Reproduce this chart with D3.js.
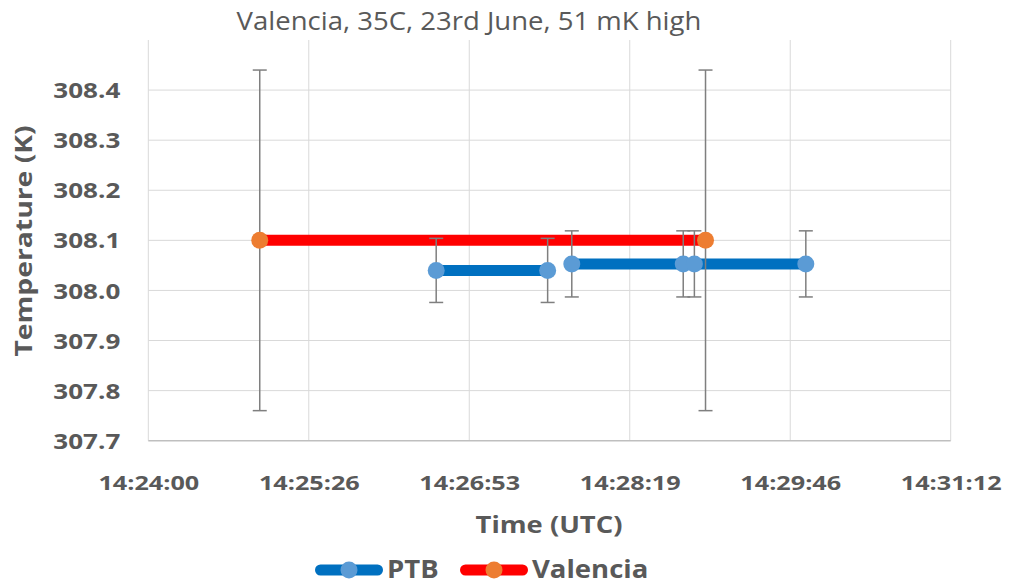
<!DOCTYPE html>
<html>
<head>
<meta charset="utf-8">
<style>
  body { margin: 0; background: #fff; font-family: "Open Sans", sans-serif; }
  svg { display: block; }
  text { font-family: "Open Sans", sans-serif; }
  .tick text { fill: #595959; font-weight: bold; }
</style>
<script src="https://cdn.jsdelivr.net/npm/d3@7"></script>
</head>
<body>
<div id="chart"></div>
<script>
// times are hh:mm:ss UTC
var ptbTimes = ["14:26:35", "14:27:35", "14:27:48", "14:28:48", "14:28:54", "14:29:54"];
var ptbTemps = [308.040, 308.040, 308.053, 308.053, 308.053, 308.053];
var ptbErrors = [0.064, 0.064, 0.066, 0.066, 0.066, 0.066];
var ptbSegments = [0, 0, 1, 1, 2, 2];

var valTimes = ["14:25:00", "14:29:00"];
var valTemps = [308.1, 308.1];
var valErrors = [0.34, 0.34];

var xTickLabels = ["14:24:00", "14:25:26", "14:26:53", "14:28:19", "14:29:46", "14:31:12"];
var yTicks = [307.7, 307.8, 307.9, 308.0, 308.1, 308.2, 308.3, 308.4];

function toSec(s) {
  var p = s.split(":").map(Number);
  return p[0] * 3600 + p[1] * 60 + p[2];
}

// widen text a bit, the original font is stretched horizontally
function stretch(sel, k) {
  sel.each(function () {
    var w = this.getComputedTextLength();
    d3.select(this).attr("textLength", w * k).attr("lengthAdjust", "spacingAndGlyphs");
  });
}

var W = 1010, H = 586;
var pLeft = 148.3, pRight = 950.7, pTop = 40, pBottom = 440.7;

var svg = d3.select("#chart").append("svg").attr("width", W).attr("height", H);

var xTickVals = xTickLabels.map(function (d, i) { return toSec(xTickLabels[0]) + i * 86.4; });
var x = d3.scaleLinear().domain([xTickVals[0], xTickVals[xTickVals.length - 1]]).range([pLeft, pRight]);
var y = d3.scaleLinear().domain([307.7, 308.5]).range([pBottom, pTop]);

// gridlines
svg.append("g").selectAll("line")
  .data(xTickVals).enter().append("line")
  .attr("x1", function (d) { return x(d); }).attr("x2", function (d) { return x(d); })
  .attr("y1", pTop).attr("y2", pBottom)
  .attr("stroke", "#d9d9d9").attr("stroke-width", 1);
svg.append("g").selectAll("line")
  .data(yTicks.slice(1)).enter().append("line")
  .attr("x1", pLeft).attr("x2", pRight)
  .attr("y1", function (d) { return y(d); }).attr("y2", function (d) { return y(d); })
  .attr("stroke", "#d9d9d9").attr("stroke-width", 1);
svg.append("line").attr("x1", pLeft).attr("x2", pRight).attr("y1", pBottom).attr("y2", pBottom)
  .attr("stroke", "#bfbfbf").attr("stroke-width", 1.5);

// axes (labels only)
var xAxis = d3.axisBottom(x).tickValues(xTickVals).tickSize(0).tickPadding(0)
  .tickFormat(function (d, i) { return xTickLabels[i]; });
var gx = svg.append("g").attr("transform", "translate(0," + (pBottom + 49) + ")").call(xAxis)
  .attr("font-family", "Open Sans");
gx.select(".domain").remove();
gx.selectAll("text").attr("font-size", "20px").attr("dy", null).attr("y", 0);
stretch(gx.selectAll("text"), 1.26);

var yAxis = d3.axisLeft(y).tickValues(yTicks).tickSize(0).tickPadding(28).tickFormat(d3.format(".1f"));
var gy = svg.append("g").attr("transform", "translate(" + pLeft + ",0)").call(yAxis)
  .attr("font-family", "Open Sans");
gy.select(".domain").remove();
gy.selectAll("text").attr("font-size", "21px").attr("dy", "0.36em");
stretch(gy.selectAll("text"), 1.24);

// data
function build(times, temps, errs, segs) {
  return times.map(function (t, i) {
    return { t: toSec(t), v: temps[i], e: errs[i], s: segs ? segs[i] : 0 };
  });
}
var series = [
  { name: "PTB", line: "#0070c0", marker: "#5b9bd5", data: build(ptbTimes, ptbTemps, ptbErrors, ptbSegments) },
  { name: "Valencia", line: "#ff0000", marker: "#ed7d31", data: build(valTimes, valTemps, valErrors) }
];

var line = d3.line().x(function (d) { return x(d.t); }).y(function (d) { return y(d.v); });

var gLines = svg.append("g"), gErr = svg.append("g"), gMarks = svg.append("g");

series.forEach(function (s) {
  var groups = d3.groups(s.data, function (d) { return d.s; });
  gLines.append("g").selectAll("path").data(groups).enter().append("path")
    .attr("d", function (d) { return line(d[1]); })
    .attr("fill", "none").attr("stroke", s.line).attr("stroke-width", 11);

  var eb = gErr.append("g").selectAll("g").data(s.data).enter().append("g")
    .attr("stroke", "#7f7f7f").attr("stroke-width", 1.5);
  eb.append("line")
    .attr("x1", function (d) { return x(d.t); }).attr("x2", function (d) { return x(d.t); })
    .attr("y1", function (d) { return y(d.v + d.e); }).attr("y2", function (d) { return y(d.v - d.e); });
  [1, -1].forEach(function (sgn) {
    eb.append("line")
      .attr("x1", function (d) { return x(d.t) - 7; }).attr("x2", function (d) { return x(d.t) + 7; })
      .attr("y1", function (d) { return y(d.v + sgn * d.e); }).attr("y2", function (d) { return y(d.v + sgn * d.e); });
  });

  gMarks.append("g").selectAll("circle").data(s.data).enter().append("circle")
    .attr("cx", function (d) { return x(d.t); }).attr("cy", function (d) { return y(d.v); })
    .attr("r", 8.5).attr("fill", s.marker);
});

// titles
var title = svg.append("text").attr("x", 469).attr("y", 30).attr("text-anchor", "middle")
  .attr("font-size", "25px").attr("fill", "#595959")
  .text("Valencia, 35C, 23rd June, 51 mK high");
stretch(title, 1.1);
var xt = svg.append("text").attr("x", 549).attr("y", 533).attr("text-anchor", "middle")
  .attr("font-size", "23px").attr("font-weight", "bold").attr("fill", "#595959")
  .text("Time (UTC)");
stretch(xt, 1.19);
var yt = svg.append("text").attr("transform", "translate(32,241) rotate(-90)").attr("text-anchor", "middle")
  .attr("font-size", "23px").attr("font-weight", "bold").attr("fill", "#595959")
  .text("Temperature (K)");
stretch(yt, 1.23);

// legend
var legendX = [315, 460];
var lg = svg.selectAll("g.legend").data(series).enter().append("g")
  .attr("transform", function (d, i) { return "translate(" + legendX[i] + ",570)"; });
lg.append("line").attr("x1", 5.5).attr("x2", 62.5).attr("y1", 0).attr("y2", 0)
  .attr("stroke", function (d) { return d.line; }).attr("stroke-width", 11).attr("stroke-linecap", "round");
lg.append("circle").attr("cx", 34).attr("cy", 0).attr("r", 8.5)
  .attr("fill", function (d) { return d.marker; });
var lt = lg.append("text").attr("x", 72).attr("y", 8).attr("font-size", "25px").attr("font-weight", "bold")
  .attr("fill", "#595959").text(function (d) { return d.name; });
stretch(lt, 1.1);
</script>
</body>
</html>
